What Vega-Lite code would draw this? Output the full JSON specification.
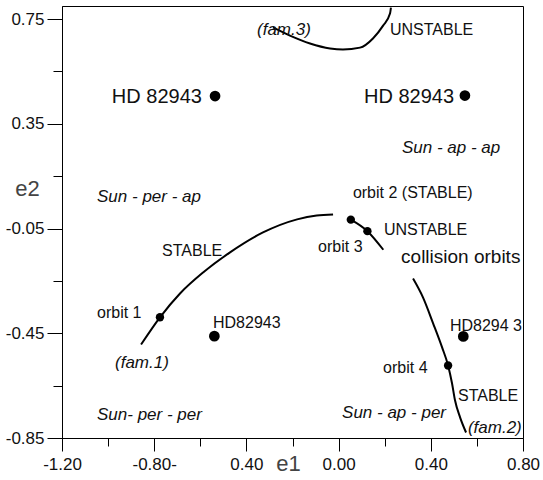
{
  "$schema": "https://vega.github.io/schema/vega-lite/v6.json",
  "width": 461,
  "height": 432,
  "autosize": "none",
  "padding": {"left": 62, "top": 6, "right": 20, "bottom": 42},
  "background": "white",
  "config": {
    "view": {"stroke": "#000", "strokeWidth": 1},
    "font": "Liberation Sans",
    "axis": {"labelFontSize": 17}
  },
  "datasets": {
    "curves": [
      {"e1": -0.857, "e2": -0.493, "curve": "fam1"},
      {"e1": -0.775, "e2": -0.389, "curve": "fam1"},
      {"e1": -0.688, "e2": -0.298, "curve": "fam1"},
      {"e1": -0.588, "e2": -0.218, "curve": "fam1"},
      {"e1": -0.471, "e2": -0.141, "curve": "fam1"},
      {"e1": -0.328, "e2": -0.065, "curve": "fam1"},
      {"e1": -0.180, "e2": -0.015, "curve": "fam1"},
      {"e1": -0.095, "e2": 0.000, "curve": "fam1"},
      {"e1": -0.024, "e2": 0.004, "curve": "fam1"},
      {"e1": -0.285, "e2": 0.718, "curve": "fam3"},
      {"e1": -0.211, "e2": 0.687, "curve": "fam3"},
      {"e1": -0.124, "e2": 0.657, "curve": "fam3"},
      {"e1": -0.037, "e2": 0.638, "curve": "fam3"},
      {"e1": 0.019, "e2": 0.634, "curve": "fam3"},
      {"e1": 0.093, "e2": 0.641, "curve": "fam3"},
      {"e1": 0.149, "e2": 0.676, "curve": "fam3"},
      {"e1": 0.193, "e2": 0.725, "curve": "fam3"},
      {"e1": 0.223, "e2": 0.771, "curve": "fam3"},
      {"e1": 0.227, "e2": 0.794, "curve": "fam3"},
      {"e1": 0.053, "e2": -0.016, "curve": "unstable"},
      {"e1": 0.125, "e2": -0.060, "curve": "unstable"},
      {"e1": 0.194, "e2": -0.131, "curve": "unstable"},
      {"e1": 0.323, "e2": -0.241, "curve": "fam2"},
      {"e1": 0.366, "e2": -0.313, "curve": "fam2"},
      {"e1": 0.410, "e2": -0.412, "curve": "fam2"},
      {"e1": 0.449, "e2": -0.504, "curve": "fam2"},
      {"e1": 0.475, "e2": -0.573, "curve": "fam2"},
      {"e1": 0.492, "e2": -0.641, "curve": "fam2"},
      {"e1": 0.505, "e2": -0.706, "curve": "fam2"},
      {"e1": 0.527, "e2": -0.771, "curve": "fam2"},
      {"e1": 0.553, "e2": -0.829, "curve": "fam2"}
    ],
    "dots": [
      {"e1": -0.536, "e2": 0.456, "kind": "star"},
      {"e1": 0.548, "e2": 0.458, "kind": "star"},
      {"e1": -0.539, "e2": -0.461, "kind": "star"},
      {"e1": 0.541, "e2": -0.462, "kind": "star"},
      {"e1": -0.775, "e2": -0.389, "kind": "orbit"},
      {"e1": 0.475, "e2": -0.573, "kind": "orbit"},
      {"e1": 0.053, "e2": -0.016, "kind": "orbit"},
      {"e1": 0.125, "e2": -0.060, "kind": "orbit"}
    ],
    "big": [
      {"e1": -0.593, "e2": 0.454, "label": "HD 82943"},
      {"e1": 0.501, "e2": 0.454, "label": "HD 82943"}
    ],
    "plain": [
      {"e1": 0.223, "e2": 0.710, "label": "UNSTABLE"},
      {"e1": 0.062, "e2": 0.084, "label": "orbit 2 (STABLE)"},
      {"e1": 0.197, "e2": -0.057, "label": "UNSTABLE"},
      {"e1": -0.766, "e2": -0.134, "label": "STABLE"},
      {"e1": -1.048, "e2": -0.374, "label": "orbit 1"},
      {"e1": -0.545, "e2": -0.409, "label": "HD82943"},
      {"e1": 0.483, "e2": -0.424, "label": "HD8294 3"},
      {"e1": 0.193, "e2": -0.584, "label": "orbit  4"},
      {"e1": 0.518, "e2": -0.691, "label": "STABLE"},
      {"e1": -0.089, "e2": -0.122, "label": "orbit  3"}
    ],
    "collision": [
      {"e1": 0.271, "e2": -0.160, "label": "collision orbits"}
    ],
    "italic": [
      {"e1": -1.048, "e2": 0.069, "label": "Sun - per - ap"},
      {"e1": -1.048, "e2": -0.764, "label": "Sun- per - per"},
      {"e1": -0.970, "e2": -0.565, "label": "(fam.1)"},
      {"e1": 0.275, "e2": 0.256, "label": "Sun - ap - ap"},
      {"e1": 0.015, "e2": -0.756, "label": "Sun - ap - per"},
      {"e1": 0.561, "e2": -0.813, "label": "(fam.2)"},
      {"e1": -0.354, "e2": 0.710, "label": "(fam.3)"}
    ]
  },
  "encoding": {
    "x": {
      "field": "e1", "type": "quantitative",
      "scale": {"domain": [-1.2, 0.8], "nice": false, "zero": false},
      "axis": {
        "title": "e1",
        "titleX": 226, "titleY": 25,
        "titleAlign": "center", "titleBaseline": "middle",
        "titleFontSize": 22, "titleFontWeight": "normal", "titleColor": "#444",
        "values": [-1.2, -1.0, -0.8, -0.6, -0.4, -0.2, 0, 0.2, 0.4, 0.6, 0.8],
        "labelExpr": "datum.value == -0.4 ? '0.40' : (datum.value == -0.8 ? '-0.80-' : ((datum.value == -1.2 || datum.value == 0 || datum.value == 0.4 || datum.value == 0.8) ? replace(format(datum.value, '.2f'), '\u2212', '-') : ''))",
        "tickSize": {"condition": {"test": "datum.value == -1.2 || datum.value == -0.8 || datum.value == -0.4 || datum.value == 0 || datum.value == 0.4 || datum.value == 0.8", "value": 13}, "value": 8},
        "labelFontSize": 17, "labelColor": "#111", "labelPadding": 5,
        "labelFlush": false, "labelOverlap": false,
        "domainColor": "#000", "tickColor": "#000", "grid": false
      }
    },
    "y": {
      "field": "e2", "type": "quantitative",
      "scale": {"domain": [-0.85, 0.8], "nice": false, "zero": false},
      "axis": {
        "title": "e2",
        "titleAngle": 0,
        "titleX": -35, "titleY": 182,
        "titleAlign": "center", "titleBaseline": "middle",
        "titleFontSize": 22, "titleFontWeight": "normal", "titleColor": "#444",
        "values": [-0.85, -0.65, -0.45, -0.25, -0.05, 0.15, 0.35, 0.55, 0.75],
        "labelExpr": "(datum.value == -0.85 || datum.value == -0.45 || datum.value == -0.05 || datum.value == 0.35 || datum.value == 0.75) ? replace(format(datum.value, '.2f'), '\u2212', '-') : ''",
        "tickSize": {"condition": {"test": "datum.value == -0.85 || datum.value == -0.45 || datum.value == -0.05 || datum.value == 0.35 || datum.value == 0.75", "value": 15}, "value": 9},
        "labelFontSize": 17, "labelColor": "#111", "labelPadding": 3,
        "labelFlush": false, "labelOverlap": false,
        "domainColor": "#000", "tickColor": "#000", "grid": false
      }
    }
  },
  "layer": [
    {
      "mark": {"type": "rule", "color": "#c8c8c8", "strokeDash": [1, 2], "strokeWidth": 1},
      "encoding": {"x": {"datum": 0}, "y": null}
    },
    {
      "mark": {"type": "rule", "color": "#c8c8c8", "strokeDash": [1, 2], "strokeWidth": 1},
      "encoding": {"y": {"datum": 0}, "x": null}
    },
    {
      "data": {"name": "curves"},
      "mark": {"type": "line", "color": "#000", "strokeWidth": 2, "interpolate": "monotone"},
      "encoding": {"detail": {"field": "curve"}}
    },
    {
      "data": {"name": "dots"},
      "mark": {"type": "point", "filled": true, "color": "#000", "opacity": 1},
      "encoding": {
        "size": {"field": "kind", "type": "nominal", "scale": {"domain": ["star", "orbit"], "range": [115, 70]}, "legend": null}
      }
    },
    {
      "data": {"name": "big"},
      "mark": {"type": "text", "align": "right", "baseline": "middle", "fontSize": 20, "color": "#111"},
      "encoding": {"text": {"field": "label"}}
    },
    {
      "data": {"name": "plain"},
      "mark": {"type": "text", "align": "left", "baseline": "middle", "fontSize": 16, "color": "#111"},
      "encoding": {"text": {"field": "label"}}
    },
    {
      "data": {"name": "collision"},
      "mark": {"type": "text", "align": "left", "baseline": "middle", "fontSize": 19, "color": "#111"},
      "encoding": {"text": {"field": "label"}}
    },
    {
      "data": {"name": "italic"},
      "mark": {"type": "text", "align": "left", "baseline": "middle", "fontSize": 17, "fontStyle": "italic", "color": "#111"},
      "encoding": {"text": {"field": "label"}}
    }
  ]
}
